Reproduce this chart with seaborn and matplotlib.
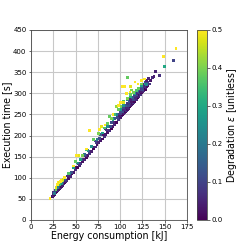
import numpy as np
import pandas as pd
import seaborn as sns
import matplotlib
matplotlib.use("Agg")
import matplotlib.pyplot as plt

# ---- data (energy [kJ], time [s], degradation) ----
# low-degradation band, lower edge
energy_a = [24, 25, 26, 27, 28, 29, 30, 31, 32, 33, 34, 35, 36, 37, 38, 39, 40, 42, 44, 46,
            48, 50, 52, 54, 56, 58, 60, 62, 64, 66, 68, 70, 72, 74, 76, 78, 80, 82, 84, 86,
            88, 90, 92, 94, 96, 98, 100, 101, 102, 103, 104, 105, 106, 107, 108, 109, 110,
            111, 112, 113, 114, 115, 116, 117, 118, 119, 120, 121, 122, 123, 124, 125, 126,
            127, 128, 129, 130]
time_a = [55, 58, 60, 63, 64, 68, 70, 72, 75, 77, 80, 82, 84, 87, 89, 92, 94, 99, 103, 109,
          113, 119, 124, 128, 134, 138, 143, 148, 153, 158, 163, 168, 173, 178, 183, 188, 192,
          197, 203, 207, 212, 217, 222, 227, 231, 237, 242, 244, 247, 249, 252, 254, 257, 259,
          262, 264, 267, 269, 272, 274, 276, 279, 281, 284, 286, 289, 291, 293, 296, 298, 301,
          303, 306, 308, 310, 313, 315]
degr_a = [0.02, 0.05, 0.01, 0.07, 0.03, 0.00, 0.06, 0.04, 0.02, 0.08, 0.01, 0.05, 0.03, 0.06,
          0.00, 0.04, 0.07, 0.02, 0.05, 0.01, 0.03, 0.06, 0.00, 0.04, 0.08, 0.02, 0.05, 0.01,
          0.03, 0.07, 0.04, 0.00, 0.06, 0.02, 0.05, 0.03, 0.01, 0.07, 0.04, 0.02, 0.06, 0.00,
          0.03, 0.05, 0.01, 0.08, 0.04, 0.02, 0.06, 0.00, 0.03, 0.05, 0.01, 0.07, 0.02, 0.04,
          0.06, 0.00, 0.03, 0.05, 0.02, 0.08, 0.01, 0.04, 0.06, 0.03, 0.00, 0.05, 0.02, 0.07,
          0.01, 0.04, 0.06, 0.03, 0.00, 0.05, 0.02]

# low-degradation band, middle row
energy_b = [25, 27, 29, 31, 33, 35, 38, 41, 45, 49, 53, 57, 61, 65, 69, 73, 77, 81, 85, 89,
            93, 97, 99, 101, 103, 105, 107, 109, 111, 113, 115, 117, 119, 121, 123, 125, 127,
            129, 131]
time_b = [65, 70, 75, 79, 84, 89, 96, 104, 113, 124, 134, 144, 153, 163, 173, 183, 193, 202,
          213, 222, 232, 242, 247, 252, 257, 262, 267, 272, 277, 281, 286, 291, 296, 301, 305,
          310, 315, 320, 325]
degr_b = [0.08, 0.12, 0.05, 0.10, 0.03, 0.09, 0.11, 0.06, 0.12, 0.04, 0.08, 0.10, 0.07, 0.12,
          0.05, 0.09, 0.11, 0.03, 0.08, 0.12, 0.06, 0.10, 0.04, 0.09, 0.12, 0.07, 0.05, 0.11,
          0.08, 0.03, 0.10, 0.06, 0.12, 0.09, 0.04, 0.11, 0.07, 0.05, 0.10]

# low-degradation band, upper row
energy_c = [72, 78, 84, 90, 94, 98, 100, 102, 104, 106, 108, 110, 112, 114, 116, 118, 120,
            122, 124, 126, 128, 130, 131, 132, 133, 134, 136, 138, 140, 144, 160]
time_c = [187, 202, 217, 231, 241, 251, 256, 261, 266, 271, 276, 281, 286, 290, 295, 300,
          305, 310, 315, 320, 325, 330, 318, 335, 322, 331, 338, 340, 351, 342, 378]
degr_c = [0.10, 0.14, 0.07, 0.12, 0.15, 0.09, 0.13, 0.06, 0.11, 0.15, 0.08, 0.12, 0.05, 0.14,
          0.10, 0.07, 0.13, 0.09, 0.15, 0.06, 0.11, 0.04, 0.02, 0.05, 0.08, 0.03, 0.06, 0.04,
          0.05, 0.07, 0.10]

# medium degradation
energy_d = [26, 30, 34, 38, 43, 48, 52, 56, 60, 64, 68, 74, 80, 86, 92, 96, 100, 104, 108,
            112, 116, 120, 124, 128, 130, 150]
time_d = [62, 76, 86, 98, 110, 124, 135, 143, 155, 165, 175, 190, 206, 222, 238, 250, 262,
          272, 284, 292, 300, 310, 318, 322, 320, 363]
degr_d = [0.20, 0.22, 0.25, 0.18, 0.20, 0.28, 0.24, 0.30, 0.17, 0.22, 0.26, 0.20, 0.28, 0.24,
          0.30, 0.22, 0.27, 0.25, 0.20, 0.30, 0.26, 0.23, 0.28, 0.30, 0.22, 0.30]

# high degradation
energy_e = [28, 32, 36, 42, 50, 58, 62, 70, 76, 82, 86, 88, 90, 94, 96, 98, 101, 104, 108,
            108.5, 112, 113, 115, 118, 121, 124]
time_e = [72, 84, 94, 110, 138, 152, 166, 190, 205, 218, 228, 246, 240, 250, 268, 262, 268,
          280, 288, 338, 298, 308, 302, 306, 312, 322]
degr_e = [0.38, 0.35, 0.40, 0.36, 0.38, 0.40, 0.35, 0.38, 0.40, 0.36, 0.38, 0.38, 0.40, 0.35,
          0.42, 0.38, 0.40, 0.36, 0.40, 0.38, 0.38, 0.40, 0.40, 0.36, 0.38, 0.40]

# maximum degradation
energy_f = [21.3, 28, 30, 31, 32, 33, 34, 36, 38, 47.5, 51, 53.8, 62, 66, 77, 79, 83, 92,
            98, 100, 104, 107, 111, 102.4, 105.5, 111.8, 116.7, 124, 120, 127, 148.5, 162.7]
time_f = [51, 76, 85, 88, 90, 92, 94, 96, 101, 128, 152, 152, 168, 211, 214, 221, 225, 250,
          272, 278, 278, 300, 303, 317, 317, 317, 327, 331, 322, 334, 388, 407]
degr_f = [0.50, 0.48, 0.50, 0.50, 0.48, 0.50, 0.50, 0.47, 0.50, 0.50, 0.50, 0.48, 0.50, 0.50,
          0.50, 0.48, 0.50, 0.50, 0.50, 0.50, 0.48, 0.50, 0.50, 0.50, 0.50, 0.48, 0.50, 0.50,
          0.50, 0.50, 0.50, 0.50]

df = pd.DataFrame({
    "energy": energy_a + energy_b + energy_c + energy_d + energy_e + energy_f,
    "time": time_a + time_b + time_c + time_d + time_e + time_f,
    "degradation": degr_a + degr_b + degr_c + degr_d + degr_e + degr_f,
})

fig = plt.figure(figsize=(3.5, 3.5), dpi=72)
ax = fig.add_axes([0.123, 0.127, 0.619, 0.754])
cax = fig.add_axes([0.782, 0.127, 0.040, 0.754])

norm = plt.Normalize(0, 0.5)
sns.scatterplot(data=df, x="energy", y="time", hue="degradation", palette="viridis",
                hue_norm=norm, s=8, linewidth=0, marker="s", legend=False, ax=ax, zorder=3)

ax.set_xlim(0, 175)
ax.set_ylim(0, 450)
ax.set_xticks(np.arange(0, 176, 25))
ax.set_yticks(np.arange(0, 451, 50))
ax.grid(True, color="#c8c8c8", linewidth=1.1)
ax.set_axisbelow(True)
ax.tick_params(labelsize=7, length=2.5, pad=2, color="#444444")
for sp in ax.spines.values():
    sp.set_color("#444444")
ax.set_xlabel("Energy consumption [kJ]", fontsize=9.5, labelpad=1)
ax.set_ylabel("Execution time [s]", fontsize=9.5, labelpad=1)

sm = plt.cm.ScalarMappable(cmap="viridis", norm=norm)
cb = fig.colorbar(sm, cax=cax)
cb.set_ticks([0.0, 0.1, 0.2, 0.3, 0.4, 0.5])
cb.ax.tick_params(labelsize=7, length=2.5, pad=2, color="#444444")
cb.outline.set_edgecolor("#444444")
cb.set_label(r"Degradation $\epsilon$ [unitless]", fontsize=9.5, labelpad=2)

fig.savefig("out.png", dpi=72)
